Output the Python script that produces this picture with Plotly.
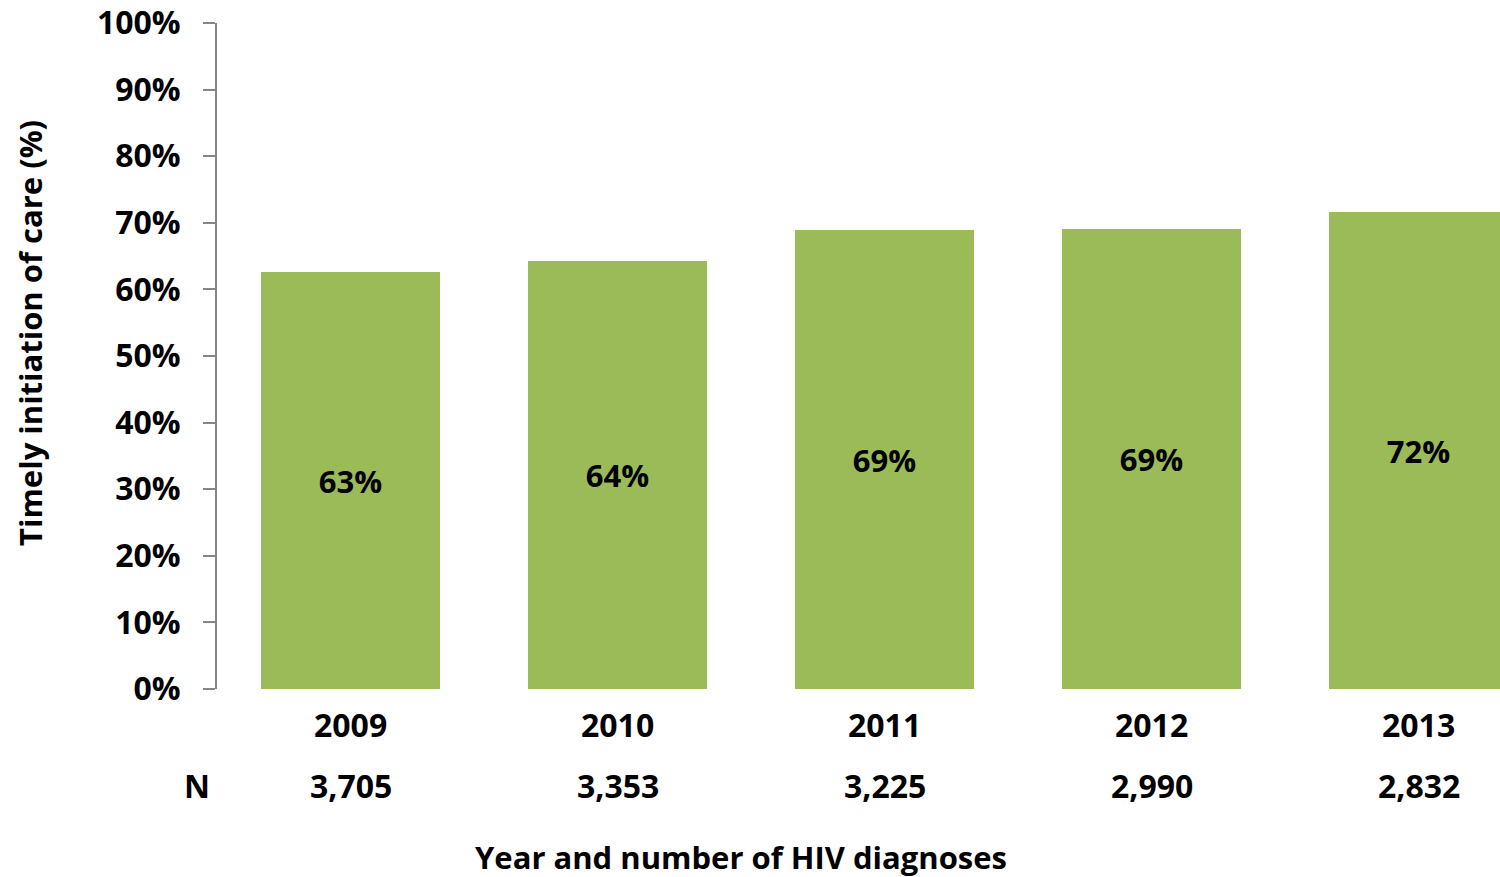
import plotly.graph_objects as go

years = ["2009", "2010", "2011", "2012", "2013"]
n_diagnoses = ["3,705", "3,353", "3,225", "2,990", "2,832"]
timely_pct = [62.6, 64.3, 68.9, 69.1, 71.6]
y_ticks = [0, 10, 20, 30, 40, 50, 60, 70, 80, 90, 100]

FONT = "Open Sans"
BAR_COLOR = "#9BBB59"
AXIS_COLOR = "#868686"

LEFT = 217
PLOT_W = 1500 - LEFT
CAT_PX = 267

# plot area spans screen x LEFT..1500, y 23..689
def px_x(sx):
    return (sx - LEFT) / PLOT_W

def px_y(sy):
    return (689 - sy) / 666

fig = go.Figure()
fig.add_trace(go.Bar(
    x=list(range(len(years))),
    y=timely_pct,
    width=0.667,
    marker=dict(color=BAR_COLOR, line=dict(width=0)),
    text=[f"{round(v)}%" for v in timely_pct],
    textposition="inside",
    insidetextanchor="middle",
    textangle=0,
    textfont=dict(family=FONT, size=31, color="black", weight="bold"),
    hoverinfo="skip",
))

bold = lambda s: dict(family=FONT, size=s, color="black", weight="bold")

annotations = []
for i, (yr, n) in enumerate(zip(years, n_diagnoses)):
    annotations.append(dict(x=i, y=px_y(725), xref="x", yref="paper", text=yr, showarrow=False,
                            yanchor="middle", xanchor="center", font=bold(32)))
    annotations.append(dict(x=i, y=px_y(785), xref="x", yref="paper", text=n, showarrow=False,
                            yanchor="middle", xanchor="center", font=bold(32)))
annotations.append(dict(x=px_x(197), y=px_y(785), xref="paper", yref="paper", text="N",
                        showarrow=False, xanchor="center", yanchor="middle", font=bold(32)))
annotations.append(dict(x=px_x(741), y=px_y(857), xref="paper", yref="paper",
                        text="Year and number of HIV diagnoses", showarrow=False,
                        xanchor="center", yanchor="middle", font=bold(31)))
annotations.append(dict(x=px_x(30), y=px_y(333), xref="paper", yref="paper",
                        text="Timely initiation of care (%)", showarrow=False, textangle=-90,
                        xanchor="center", yanchor="middle", font=bold(31)))

fig.update_layout(
    width=1500, height=877,
    margin=dict(l=LEFT, r=0, t=23, b=188),
    paper_bgcolor="white", plot_bgcolor="white",
    showlegend=False,
    bargap=0,
    annotations=annotations,
    xaxis=dict(range=[-0.5, -0.5 + PLOT_W / CAT_PX], showticklabels=False, showgrid=False,
               zeroline=False, showline=False, ticks=""),
    yaxis=dict(range=[0, 100], tickvals=y_ticks, ticktext=[f"{v}%" for v in y_ticks],
               showgrid=False, zeroline=False, showline=True, linecolor=AXIS_COLOR, linewidth=2,
               ticks="outside", ticklen=12, tickwidth=2, tickcolor=AXIS_COLOR,
               ticklabelstandoff=16, ticklabeloverflow="allow",
               tickfont=bold(32)),
)

fig.write_html("out.html", config={"displayModeBar": False},
               post_script="document.body.style.margin='0';document.body.style.overflow='hidden';")
